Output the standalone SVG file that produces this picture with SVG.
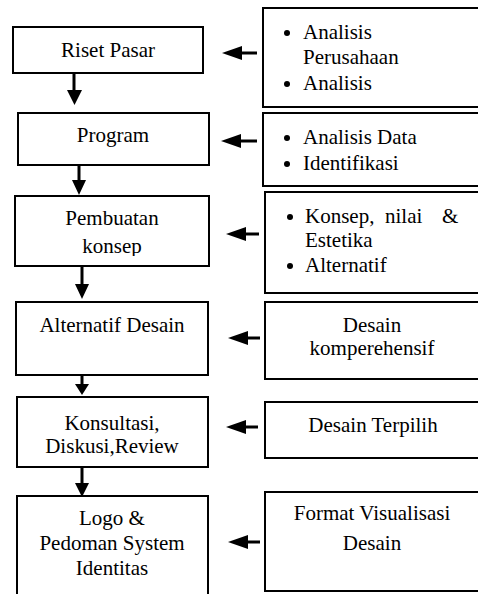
<svg xmlns="http://www.w3.org/2000/svg" width="478" height="594" viewBox="0 0 478 594">
<style>
.box{fill:#fff;stroke:#000;stroke-width:2}
text{font-family:'Liberation Serif','Times New Roman',serif;font-size:21px;fill:#000}
.c{text-anchor:middle}
.ln{stroke:#000;stroke-width:3;fill:none}
.hd{fill:#000}
</style>
<defs>
<clipPath id="clip3"><rect x="15" y="196" width="194" height="60"/></clipPath>
</defs>
<rect width="478" height="594" fill="#fff"/>
<g id="n1"><rect class="box" x="13" y="27" width="190" height="46"/><text class="c" x="108" y="57">Riset Pasar</text></g>
<g id="n2"><rect class="box" x="18" y="113" width="191" height="52"/><text class="c" x="113" y="142">Program</text></g>
<g id="n3"><rect class="box" x="15" y="196" width="194" height="70"/><text class="c" x="112" y="225">Pembuatan</text><text class="c" x="112" y="253" clip-path="url(#clip3)">konsep</text></g>
<g id="n4"><rect class="box" x="16" y="302" width="192" height="73"/><text class="c" x="112" y="332">Alternatif Desain</text></g>
<g id="n5"><rect class="box" x="17" y="397" width="191" height="70"/><text class="c" x="112" y="430">Konsultasi,</text><text class="c" x="112" y="453">Diskusi,Review</text></g>
<g id="n6"><rect class="box" x="17" y="496" width="191" height="110"/><text class="c" x="112" y="525">Logo &amp;</text><text class="c" x="112" y="550">Pedoman System</text><text class="c" x="112" y="575">Identitas</text></g>
<g id="r1"><rect class="box" x="263" y="8" width="230" height="99"/><circle cx="287" cy="33" r="3"/><text x="303" y="39">Analisis</text><text x="303" y="64">Perusahaan</text><circle cx="287" cy="84" r="3"/><text x="303" y="90">Analisis</text></g>
<g id="r2"><rect class="box" x="263" y="113" width="230" height="73"/><circle cx="287" cy="138" r="3"/><text x="303" y="144">Analisis Data</text><circle cx="287" cy="164" r="3"/><text x="303" y="170">Identifikasi</text></g>
<g id="r3"><rect class="box" x="265" y="192" width="228" height="101"/><circle cx="290" cy="217" r="3"/><text y="223"><tspan x="305">Konsep,</tspan><tspan x="385">nilai</tspan><tspan x="442">&amp;</tspan></text><text x="305" y="247">Estetika</text><circle cx="290" cy="266" r="3"/><text x="305" y="272">Alternatif</text></g>
<g id="r4"><rect class="box" x="265" y="302" width="228" height="77"/><text class="c" x="372" y="332">Desain</text><text class="c" x="372" y="355">komperehensif</text></g>
<g id="r5"><rect class="box" x="265" y="402" width="228" height="56"/><text class="c" x="373" y="432">Desain Terpilih</text></g>
<g id="r6"><rect class="box" x="265" y="492" width="228" height="99"/><text class="c" x="372" y="520">Format Visualisasi</text><text class="c" x="372" y="550">Desain</text></g>
<g id="connectors">
<line class="ln" x1="74" y1="73" x2="74" y2="92"/><polygon class="hd" points="67,90 82,90 74.5,105"/>
<line class="ln" x1="79" y1="165" x2="79" y2="182"/><polygon class="hd" points="72,180 86,180 79,195"/>
<line class="ln" x1="82" y1="266" x2="82" y2="286"/><polygon class="hd" points="75,284 89,284 82,299"/>
<line class="ln" x1="82" y1="375" x2="82" y2="387"/><polygon class="hd" points="75,384 89,384 82,395"/>
<line class="ln" x1="82" y1="467" x2="82" y2="485"/><polygon class="hd" points="75,483 89,483 82,497"/>
<line class="ln" x1="240" y1="53" x2="257" y2="53"/><polygon class="hd" points="222,53 242,46 242,60"/>
<line class="ln" x1="240" y1="141" x2="257" y2="141"/><polygon class="hd" points="221,141 241,134 241,148"/>
<line class="ln" x1="244" y1="234" x2="259" y2="234"/><polygon class="hd" points="226,234 246,227 246,241"/>
<line class="ln" x1="246" y1="338" x2="260" y2="338"/><polygon class="hd" points="228,338 248,331 248,345"/>
<line class="ln" x1="244" y1="427" x2="258" y2="427"/><polygon class="hd" points="226,427 246,420 246,434"/>
<line class="ln" x1="246" y1="542" x2="260" y2="542"/><polygon class="hd" points="228,542 248,535 248,549"/>
</g>
</svg>
